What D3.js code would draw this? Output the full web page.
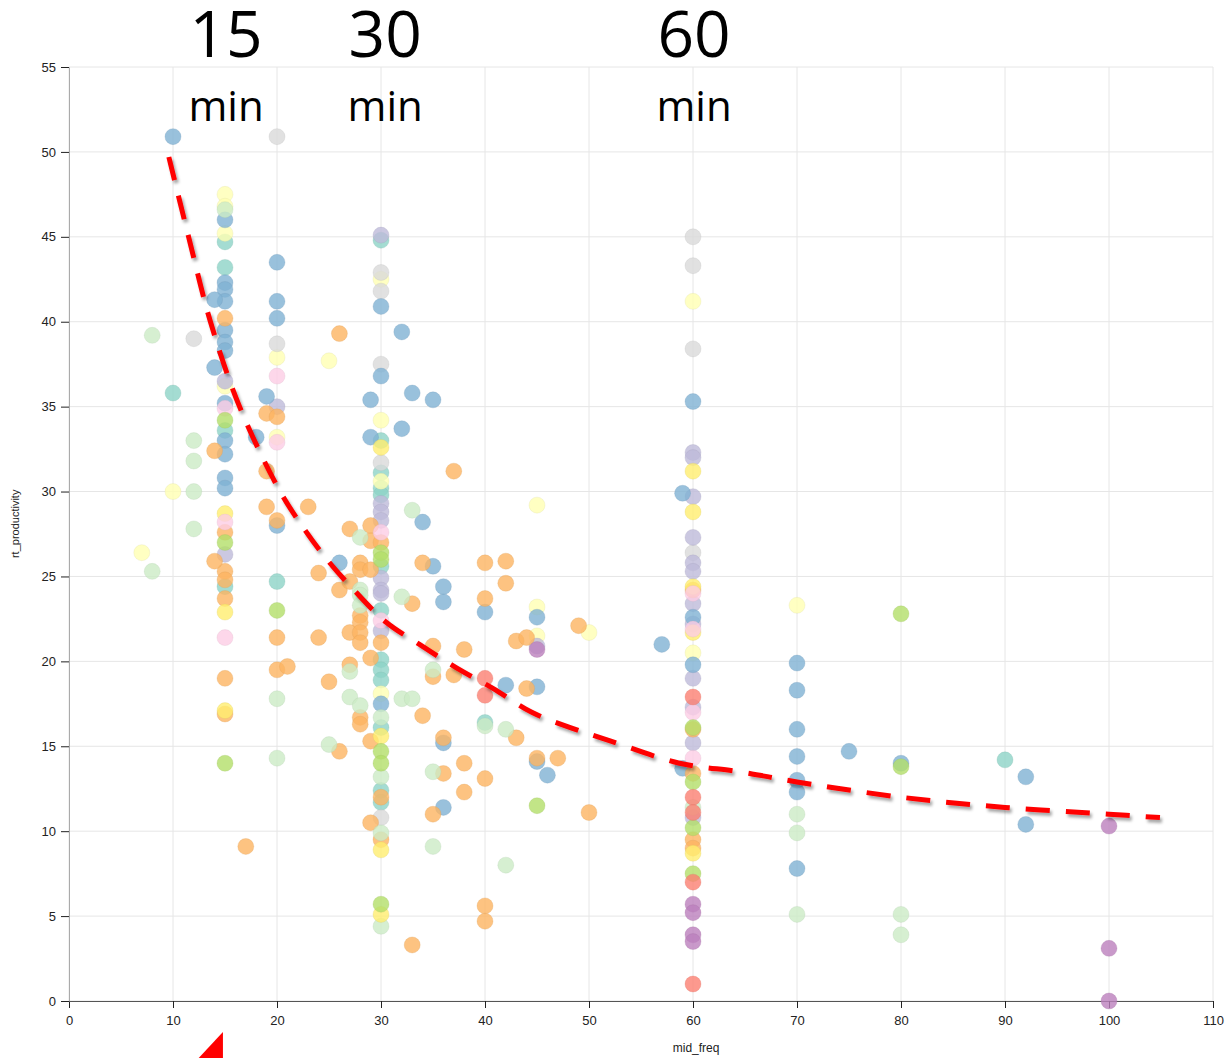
<!DOCTYPE html>
<html>
<head>
<meta charset="utf-8">
<script src="https://cdn.jsdelivr.net/npm/d3@7"></script>
<style>
  body { margin: 0; background: #fff; }
  .axis text { font-family: "Liberation Sans", Arial, sans-serif; font-size: 13px; fill: #222; }
  .grid line { stroke: #e6e6e6; stroke-width: 1; }
  .big { font-family: "Open Sans", sans-serif; fill: #000; }
</style>
</head>
<body>
<svg id="chart" width="1228" height="1058"></svg>
<script>
// points grouped by colour, [mid_freq, rt_productivity]
const blue = [[10,50.9],[15,46.0],[15,42.3],[15,41.9],[15,41.2],[15,39.5],[15,38.8],[15,38.3],[15,35.2],[15,33.0],[15,32.2],[15,30.8],[15,30.2],[14,41.3],[14,37.3],[18,33.2],[19,35.6],[20,43.5],[20,41.2],[20,40.2],[20,28.0],[26,25.8],[29,35.4],[29,33.2],[30,40.9],[30,36.8],[30,17.5],[32,39.4],[32,33.7],[33,35.8],[34,28.2],[35,35.4],[35,25.6],[36,24.4],[36,23.5],[36,15.2],[36,11.4],[40,22.9],[42,18.6],[45,22.6],[45,18.5],[45,14.1],[46,13.3],[57,21.0],[59,29.9],[59,13.7],[60,35.3],[60,22.6],[60,19.8],[70,19.9],[70,18.3],[70,16.0],[70,14.4],[70,13.0],[70,12.3],[70,7.8],[75,14.7],[80,14.0],[92,13.2],[92,10.4]];
const orange = [[15,40.2],[15,27.6],[15,25.3],[15,24.8],[15,23.7],[15,19.0],[15,16.9],[14,32.4],[14,25.9],[17,9.1],[19,34.6],[19,31.2],[19,29.1],[20,34.4],[20,28.3],[20,21.4],[20,19.5],[21,19.7],[23,29.1],[24,25.2],[24,21.4],[25,18.8],[26,39.3],[26,24.2],[26,14.7],[27,27.8],[27,24.7],[27,21.7],[27,19.8],[28,25.8],[28,25.4],[28,22.7],[28,22.3],[28,21.7],[28,21.1],[28,16.7],[28,16.3],[29,28.0],[29,27.1],[29,25.4],[29,20.2],[29,15.3],[29,10.5],[30,27.0],[30,21.1],[30,12.0],[30,9.5],[33,23.4],[33,3.3],[34,25.8],[34,16.8],[35,20.9],[35,19.1],[35,11.0],[36,15.5],[36,13.4],[37,31.2],[37,19.2],[38,20.7],[38,14.0],[38,12.3],[40,25.8],[40,23.7],[40,13.1],[40,5.6],[40,4.7],[42,25.9],[42,24.6],[43,21.2],[43,15.5],[44,21.4],[44,18.4],[45,14.3],[47,14.3],[49,22.1],[50,11.1],[60,24.2],[60,16.0],[60,13.4],[60,9.5],[60,9.0]];
const lightGreen = [[8,39.2],[8,25.3],[12,33.0],[12,31.8],[12,30.0],[12,27.8],[15,46.6],[20,17.8],[20,14.3],[25,15.1],[27,19.4],[27,17.9],[28,27.3],[28,24.2],[28,23.9],[28,23.3],[28,17.4],[30,16.7],[30,13.2],[30,9.9],[30,4.4],[32,23.8],[32,17.8],[33,28.9],[33,17.8],[35,19.5],[35,13.5],[35,9.1],[40,16.2],[42,16.0],[42,8.0],[60,11.4],[70,11.0],[70,9.9],[70,5.1],[80,5.1],[80,3.9]];
const lightYellow = [[7,26.4],[10,30.0],[15,47.5],[15,46.8],[15,45.2],[15,36.2],[20,37.9],[20,33.2],[25,37.7],[30,42.5],[30,34.2],[30,30.6],[30,18.1],[45,29.2],[45,23.2],[45,21.5],[50,21.7],[60,41.2],[60,20.5],[70,23.3]];
const yellow = [[15,28.7],[15,22.9],[15,17.1],[30,32.6],[30,15.6],[30,8.9],[30,5.1],[60,31.2],[60,28.8],[60,24.4],[60,21.7],[60,8.7]];
const teal = [[10,35.8],[15,44.7],[15,43.2],[15,33.6],[15,24.4],[20,24.7],[30,44.8],[30,33.0],[30,31.1],[30,30.2],[30,29.8],[30,25.6],[30,23.0],[30,20.1],[30,19.5],[30,18.9],[30,16.1],[30,12.4],[30,11.7],[40,16.4],[90,14.2]];
const gray = [[12,39.0],[20,50.9],[20,38.7],[30,42.9],[30,41.8],[30,37.5],[30,31.7],[30,10.8],[60,45.0],[60,43.3],[60,38.4],[60,26.4]];
const purple = [[15,36.5],[15,26.3],[20,35.0],[30,45.1],[30,29.3],[30,28.8],[30,28.3],[30,24.9],[30,24.2],[30,24.0],[30,21.8],[45,20.9],[60,32.3],[60,32.0],[60,29.7],[60,27.3],[60,25.8],[60,25.3],[60,23.4],[60,22.2],[60,19.0],[60,17.3],[60,15.2],[60,10.8]];
const pink = [[15,34.9],[15,28.2],[15,21.4],[20,36.8],[20,32.9],[30,27.6],[30,22.4],[60,24.0],[60,21.9],[60,17.0],[60,14.3]];
const green = [[15,34.2],[15,27.0],[15,14.0],[20,23.0],[30,26.4],[30,26.0],[30,14.7],[30,14.0],[30,5.7],[45,11.5],[60,16.1],[60,12.9],[60,10.2],[60,7.5],[80,22.8],[80,13.8]];
const red = [[40,19.0],[40,18.0],[60,17.9],[60,12.0],[60,11.1],[60,7.0],[60,1.0]];
const violet = [[45,20.7],[60,5.7],[60,5.2],[60,3.9],[60,3.5],[100,10.3],[100,3.1],[100,0.0]];

// hand drawn trend line
const trendX = [9.6, 11.5, 13.6, 16.4, 20.3, 22.5, 24.8, 27.4, 30.5, 33.7, 37.3, 40.8, 44.5, 48.2, 52.1, 58.7, 64.5, 70, 80, 90, 100, 104.9];
const trendY = [49.7, 45, 40, 35, 30, 27.9, 26.0, 24.2, 22.3, 21.0, 19.6, 18.4, 17.0, 16.1, 15.3, 14.0, 13.5, 12.9, 12.0, 11.4, 11.0, 10.8];

const xTicks = d3.range(0, 111, 10);
const yTicks = d3.range(0, 56, 5);
const bigLabels = ['15', '30', '60'];
const bigLabelX = [15.1, 30.4, 60.1];

const groups = [
  [teal, '#8dd3c7'], [lightYellow, '#ffffb3'], [gray, '#d9d9d9'], [purple, '#bebada'],
  [blue, '#80b1d3'], [orange, '#fdb462'], [lightGreen, '#ccebc5'], [yellow, '#ffed6f'],
  [pink, '#fccde5'], [green, '#b3de69'], [red, '#fb8072'], [violet, '#bc80bd']
];
const points = [];
groups.forEach(([arr, c]) => arr.forEach(p => points.push({x: p[0], y: p[1], c: c})));

const svg = d3.select('#chart');
const margin = {top: 67, right: 15, bottom: 57, left: 69};
const width = +svg.attr('width');
const height = +svg.attr('height');
const innerWidth = width - margin.left - margin.right;
const innerHeight = height - margin.top - margin.bottom;

const xScale = d3.scaleLinear().domain([0, 110]).range([0, innerWidth]);
const yScale = d3.scaleLinear().domain([0, 55]).range([innerHeight, 0]);

const defs = svg.append('defs');
const f = defs.append('filter').attr('id', 'shadow').attr('x', '-20%').attr('y', '-20%').attr('width', '140%').attr('height', '140%');
f.append('feDropShadow').attr('dx', 2).attr('dy', 3).attr('stdDeviation', 1.5).attr('flood-color', '#000').attr('flood-opacity', 0.35);

const g = svg.append('g').attr('transform', `translate(${margin.left}, ${margin.top})`);

// grid
g.append('g').attr('class', 'grid').selectAll('line').data(xTicks).enter().append('line')
  .attr('x1', d => xScale(d)).attr('x2', d => xScale(d)).attr('y1', 0).attr('y2', innerHeight);
g.append('g').attr('class', 'grid').selectAll('line').data(yTicks).enter().append('line')
  .attr('y1', d => yScale(d)).attr('y2', d => yScale(d)).attr('x1', 0).attr('x2', innerWidth);

// axes
const xAxisG = g.append('g').attr('class', 'axis').attr('transform', `translate(0, ${innerHeight})`)
  .call(d3.axisBottom(xScale).tickValues(xTicks).tickSizeInner(7).tickSizeOuter(0).tickPadding(8));
xAxisG.select('.domain').attr('stroke', '#555');
xAxisG.selectAll('.tick line').attr('stroke', '#222');
const yAxisG = g.append('g').attr('class', 'axis')
  .call(d3.axisLeft(yScale).tickValues(yTicks).tickSizeInner(8).tickSizeOuter(0).tickPadding(5));
yAxisG.select('.domain').attr('stroke', '#aaa');
yAxisG.selectAll('.tick line').attr('stroke', '#222');

g.append('text').attr('x', xScale(60.3)).attr('y', innerHeight + 51).attr('text-anchor', 'middle')
  .style('font-family', '"Liberation Sans", Arial, sans-serif').style('font-size', '12px').attr('fill', '#222')
  .text('mid_freq');
g.append('text').attr('transform', `translate(${-50}, ${yScale(28.1)}) rotate(-90)`).attr('text-anchor', 'middle')
  .style('font-family', '"Liberation Sans", Arial, sans-serif').style('font-size', '11px').attr('fill', '#222')
  .text('rt_productivity');

// points
g.append('g').selectAll('circle').data(points).enter().append('circle')
  .attr('cx', d => xScale(d.x)).attr('cy', d => yScale(d.y)).attr('r', 8)
  .attr('fill', d => d.c).attr('fill-opacity', 0.8)
  .attr('stroke', d => d3.color(d.c).darker(0.4)).attr('stroke-opacity', 0.25).attr('stroke-width', 1);

// trend line
const trend = trendX.map((x, i) => [x, trendY[i]]);
g.append('path').datum(trend)
  .attr('d', d3.line().x(d => xScale(d[0])).y(d => yScale(d[1])).curve(d3.curveCatmullRom))
  .attr('fill', 'none').attr('stroke', '#ff0000').attr('stroke-width', 5)
  .attr('stroke-dasharray', '24,16').attr('filter', 'url(#shadow)');

// top annotations
bigLabels.forEach((t, i) => {
  const cx = xScale(bigLabelX[i]);
  g.append('text').attr('class', 'big').attr('x', cx).attr('y', -10).attr('text-anchor', 'middle')
    .style('font-size', '64px').text(t);
  g.append('text').attr('class', 'big').attr('x', cx).attr('y', 54).attr('text-anchor', 'middle')
    .style('font-size', '42px').text('min');
});

// red arrow head peeking in at the bottom
const ax = xScale(14.8);
g.append('path')
  .attr('d', `M${ax},${innerHeight + 31} L${ax},${innerHeight + 60} L${ax - 27},${innerHeight + 60} Z`)
  .attr('fill', '#ff0000');
</script>
</body>
</html>
